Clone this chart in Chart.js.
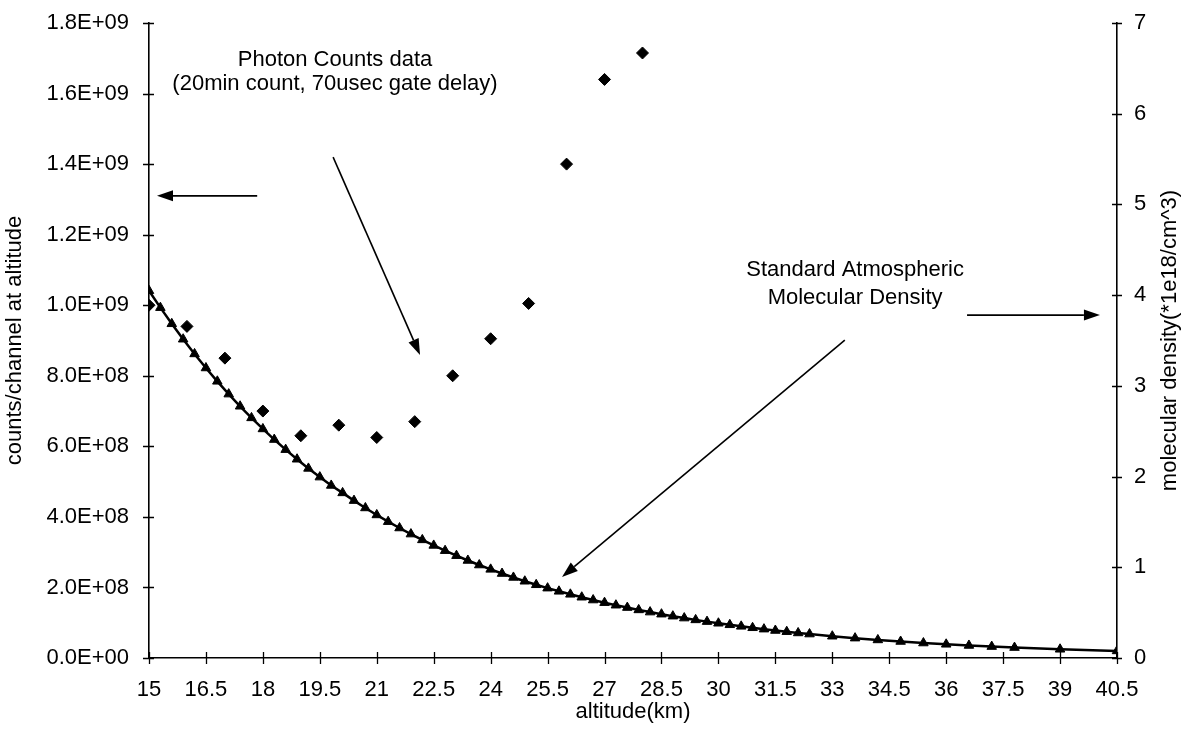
<!DOCTYPE html>
<html>
<head>
<meta charset="utf-8">
<script src="https://cdn.jsdelivr.net/npm/chart.js@4.4.1/dist/chart.umd.min.js"></script>
<style>
  html, body { margin: 0; padding: 0; background: #fff; overflow: hidden; }
  #c { display: block; }
</style>
</head>
<body>
<canvas id="c" width="1184" height="731"></canvas>
<script>
// ---- tick values ----
const altitudeTicks = [15, 16.5, 18, 19.5, 21, 22.5, 24, 25.5, 27, 28.5, 30, 31.5, 33, 34.5, 36, 37.5, 39, 40.5];
const countTicks = [0, 2e8, 4e8, 6e8, 8e8, 1e9, 1.2e9, 1.4e9, 1.6e9, 1.8e9];
const densityTicks = [0, 1, 2, 3, 4, 5, 6, 7];

// ---- photon counts per channel (20 min count, 70 usec gate delay) ----
const photonAltitude = [15, 16, 17, 18, 19, 20, 21, 22, 23, 24, 25, 26, 27, 28];
const photonCounts = [1.0e9, 9.4e8, 8.5e8, 7.0e8, 6.3e8, 6.6e8, 6.25e8, 6.7e8, 8.0e8, 9.05e8, 1.005e9, 1.4e9, 1.64e9, 1.715e9];

// ---- standard atmospheric molecular density (1e18 / cm^3) ----
const densityAltitude = [
  15, 15.3, 15.6, 15.9, 16.2, 16.5, 16.8, 17.1, 17.4, 17.7,
  18, 18.3, 18.6, 18.9, 19.2, 19.5, 19.8, 20.1, 20.4, 20.7,
  21, 21.3, 21.6, 21.9, 22.2, 22.5, 22.8, 23.1, 23.4, 23.7,
  24, 24.3, 24.6, 24.9, 25.2, 25.5, 25.8, 26.1, 26.4, 26.7,
  27, 27.3, 27.6, 27.9, 28.2, 28.5, 28.8, 29.1, 29.4, 29.7,
  30, 30.3, 30.6, 30.9, 31.2, 31.5, 31.8, 32.1, 32.4,
  33, 33.6, 34.2, 34.8, 35.4, 36, 36.6, 37.2, 37.8, 39, 40.5
];
const densityValues = [
  4.049, 3.862, 3.684, 3.514, 3.352, 3.197, 3.050, 2.909, 2.775, 2.647,
  2.525, 2.408, 2.297, 2.191, 2.090, 1.994, 1.902, 1.820, 1.735, 1.654,
  1.577, 1.503, 1.433, 1.366, 1.302, 1.241, 1.183, 1.128, 1.075, 1.025,
  0.977, 0.931, 0.888, 0.846, 0.807, 0.770, 0.735, 0.702, 0.670, 0.639,
  0.610, 0.582, 0.556, 0.530, 0.506, 0.483, 0.461, 0.440, 0.420, 0.401,
  0.383, 0.366, 0.349, 0.333, 0.318, 0.303, 0.290, 0.276, 0.264,
  0.240, 0.219, 0.199, 0.182, 0.165, 0.151, 0.138, 0.126, 0.115, 0.096, 0.078
];

const FONT = "'Liberation Sans', Arial, Helvetica, sans-serif";
const INK = '#000';

// scientific labels such as 1.8E+09
function sciLabel(v) {
  const [m, e] = Number(v).toExponential(1).split('e');
  const sign = e[0] === '-' ? '-' : '+';
  const digits = e.replace(/[+-]/, '').padStart(2, '0');
  return m + 'E' + sign + digits;
}

function useTicks(values) {
  return scale => { scale.ticks = values.map(v => ({ value: v })); };
}

// fixed box sizes so the plot area lines up with the printed frame
function fixVertical(width) {
  return scale => { scale.width = width; scale.paddingTop = 0; scale.paddingBottom = 0; };
}

// callout texts and arrows, placed in data units (altitude km, counts)
const callouts = {
  texts: [
    { x: 19.9, y: 1.695e9, text: 'Photon Counts data' },
    { x: 19.9, y: 1.627e9, text: '(20min count, 70usec gate delay)' },
    { x: 33.6, y: 1.10e9, text: 'Standard Atmospheric' },
    { x: 33.6, y: 1.02e9, text: 'Molecular Density' }
  ],
  arrows: [
    { from: [17.85, 1.31e9], to: [15.21, 1.31e9] },
    { from: [19.85, 1.42e9], to: [22.14, 0.859e9] },
    { from: [33.33, 0.901e9], to: [25.88, 0.2296e9] },
    { from: [36.55, 0.972e9], to: [40.05, 0.972e9] }
  ]
};

const decorPlugin = {
  id: 'decor',
  afterDraw(chart) {
    const { ctx, chartArea } = chart;
    const sx = chart.scales.x, sy = chart.scales.y, sy2 = chart.scales.y2;
    ctx.save();
    ctx.strokeStyle = INK;
    ctx.fillStyle = INK;
    ctx.lineWidth = 1.3;

    // cross tick marks on the three axes
    ctx.beginPath();
    sy.ticks.forEach(t => {
      const py = Math.round(sy.getPixelForValue(t.value)) + 0.5;
      ctx.moveTo(chartArea.left - 6, py); ctx.lineTo(chartArea.left + 5, py);
    });
    sy2.ticks.forEach(t => {
      const py = Math.round(sy2.getPixelForValue(t.value)) + 0.5;
      ctx.moveTo(chartArea.right - 5, py); ctx.lineTo(chartArea.right + 5, py);
    });
    sx.ticks.forEach(t => {
      const px = Math.round(sx.getPixelForValue(t.value)) + 0.5;
      ctx.moveTo(px, chartArea.bottom - 6); ctx.lineTo(px, chartArea.bottom + 6);
    });
    ctx.stroke();

    // callout arrows
    ctx.lineWidth = 1.6;
    callouts.arrows.forEach(a => {
      const x0 = sx.getPixelForValue(a.from[0]), y0 = sy.getPixelForValue(a.from[1]);
      const x1 = sx.getPixelForValue(a.to[0]), y1 = sy.getPixelForValue(a.to[1]);
      const ang = Math.atan2(y1 - y0, x1 - x0);
      const len = 16, half = 5.5;
      const bx = x1 - len * Math.cos(ang), by = y1 - len * Math.sin(ang);
      ctx.beginPath();
      ctx.moveTo(x0, y0); ctx.lineTo(bx, by);
      ctx.stroke();
      ctx.beginPath();
      ctx.moveTo(x1, y1);
      ctx.lineTo(bx + half * Math.sin(ang), by - half * Math.cos(ang));
      ctx.lineTo(bx - half * Math.sin(ang), by + half * Math.cos(ang));
      ctx.closePath();
      ctx.fill();
    });

    // callout texts
    ctx.font = '22px ' + FONT;
    ctx.textAlign = 'center';
    ctx.textBaseline = 'middle';
    callouts.texts.forEach(t => {
      ctx.fillText(t.text, sx.getPixelForValue(t.x), sy.getPixelForValue(t.y));
    });

    // right axis title, reading upward
    ctx.font = '22px ' + FONT;
    ctx.translate(chart.width - 14, (chartArea.top + chartArea.bottom) / 2);
    ctx.rotate(-Math.PI / 2);
    ctx.fillText('molecular density(*1e18/cm^3)', 0, 0);
    ctx.restore();
  }
};

const axisBase = {
  grid: { display: true, drawOnChartArea: false, drawTicks: false },
  border: { display: true, color: INK, width: 1.6 }
};

new Chart(document.getElementById('c'), {
  data: {
    datasets: [
      {
        type: 'line',
        label: 'Standard Atmospheric Molecular Density',
        data: densityAltitude.map((a, i) => ({ x: a, y: densityValues[i] })),
        yAxisID: 'y2',
        borderColor: INK,
        borderWidth: 2.5,
        backgroundColor: INK,
        pointStyle: 'triangle',
        pointRadius: 5.5,
        pointBorderWidth: 1,
        pointBorderColor: INK,
        pointBackgroundColor: INK,
        tension: 0,
        fill: false,
        order: 2
      },
      {
        type: 'scatter',
        label: 'Photon Counts data',
        data: photonAltitude.map((a, i) => ({ x: a, y: photonCounts[i] })),
        yAxisID: 'y',
        showLine: false,
        pointStyle: 'rectRot',
        pointRadius: 6,
        pointBorderWidth: 1,
        pointBorderColor: INK,
        pointBackgroundColor: INK,
        order: 1
      }
    ]
  },
  options: {
    responsive: false,
    animation: false,
    devicePixelRatio: 1,
    layout: { padding: { top: 23, left: 0, right: 0, bottom: 0 } },
    plugins: { legend: { display: false }, tooltip: { enabled: false } },
    scales: {
      x: {
        type: 'linear',
        position: 'bottom',
        min: 15, max: 40.5,
        afterBuildTicks: useTicks(altitudeTicks),
        afterFit: s => { s.height = 73; },
        ...axisBase,
        ticks: {
          color: INK, padding: 19, maxRotation: 0, autoSkip: false,
          font: { family: FONT, size: 22 },
          callback: v => String(Number(v.toFixed(1)))
        },
        title: {
          display: true, text: 'altitude(km)', color: INK,
          font: { family: FONT, size: 22 }, padding: { top: 0, bottom: 6 }
        }
      },
      y: {
        type: 'linear',
        position: 'left',
        min: 0, max: 1.8e9,
        afterBuildTicks: useTicks(countTicks),
        afterFit: fixVertical(149),
        ...axisBase,
        ticks: {
          color: INK, padding: 20, autoSkip: false,
          font: { family: FONT, size: 22 },
          callback: v => sciLabel(v)
        },
        title: {
          display: true, text: 'counts/channel at altitude', color: INK,
          font: { family: FONT, size: 22 }, padding: { top: 2, bottom: 0 }
        }
      },
      y2: {
        type: 'linear',
        position: 'right',
        min: 0, max: 7,
        afterBuildTicks: useTicks(densityTicks),
        afterFit: fixVertical(67),
        ...axisBase,
        ticks: {
          color: INK, padding: 17, autoSkip: false,
          font: { family: FONT, size: 22 },
          callback: v => String(v)
        }
      }
    }
  },
  plugins: [decorPlugin]
});
</script>
</body>
</html>
